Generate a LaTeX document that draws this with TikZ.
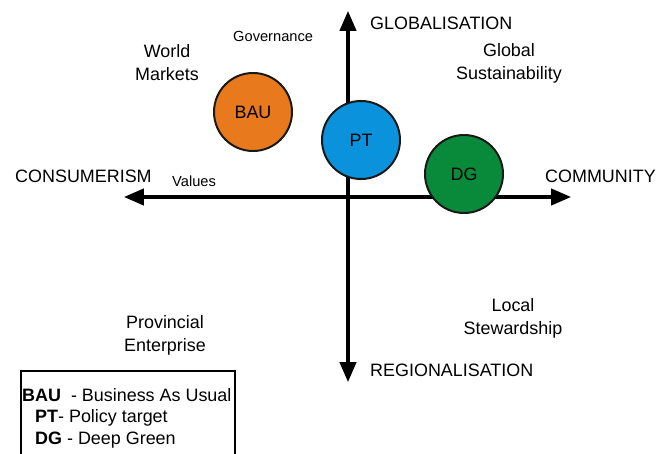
\documentclass[tikz,border=0pt]{standalone}
\usepackage{fontspec}
\setmainfont{Liberation Sans}
\usetikzlibrary{arrows.meta}
\definecolor{bauorange}{RGB}{232,121,28}
\definecolor{ptblue}{RGB}{10,146,220}
\definecolor{dggreen}{RGB}{8,138,58}
\begin{document}
\begin{tikzpicture}[
        x=0.03cm, y=-0.03cm,
        axis/.style={line width=2.6pt, {Triangle[length=17pt,width=14pt]}-{Triangle[length=17pt,width=14pt]}},
        scenario/.style={draw=black!90, line width=1.7pt, circle, minimum size=2.34cm, inner sep=0pt,
            font=\fontsize{15.3}{18}\selectfont},
        biglabel/.style={font=\fontsize{15.3}{18}\selectfont, inner sep=0pt},
        smalllabel/.style={font=\fontsize{12.5}{15}\selectfont, inner sep=0pt},
        quadrant/.style={font=\fontsize{15.3}{19.6}\selectfont, align=center, inner sep=0pt},
        ]
    \useasboundingbox (0,0) rectangle (668,454);
    % axes
    \coordinate (gtop) at (348,11);
    \coordinate (rbot) at (348,382);
    \coordinate (cleft) at (124,197);
    \coordinate (cright) at (571,197);
    \draw[axis] (rbot) -- (gtop);
    \draw[axis] (cleft) -- (cright);
    % axis labels
    \node (glob) [biglabel, anchor=base west] at (370,29.5) {GLOBALISATION};
    \node (reg) [biglabel, anchor=base west] at (370,376) {REGIONALISATION};
    \node (cons) [biglabel, anchor=base west] at (15,183) {CONSUMERISM};
    \node (comm) [biglabel, anchor=base west] at (545,183) {COMMUNITY};
    \node (val) [smalllabel, anchor=base west] at (172,186.5) {Values};
    \node (gov) [smalllabel, anchor=base west] at (233,41.5) {Governance};
    % quadrants
    \node (wm) [quadrant] at (167,63) {World\\Markets};
    \node (gs) [quadrant] at (509,63) {Global\\Sustainability};
    \node (ls) [quadrant] at (513,318) {Local\\Stewardship};
    \node (pe) [quadrant] at (165,335) {Provincial\\Enterprise};
    % scenarios
    \node (bau) [scenario, fill=bauorange] at (253,112) {BAU};
    \node (pt) [scenario, fill=ptblue] at (361,140) {PT};
    \node (dg) [scenario, fill=dggreen] at (464,174) {DG};
    % legend
    \draw[line width=1.3pt] (21,460) -- (21,371) -- (235,371) -- (235,460);
    \node (lbau) [biglabel, anchor=base west] at (22,401.5) {\textbf{BAU} \ - Business As Usual};
    \node (lpt) [biglabel, anchor=base west] at (35,422.5) {\textbf{PT}- Policy target};
    \node (ldg) [biglabel, anchor=base west] at (35,444.5) {\textbf{DG} - Deep Green};
\end{tikzpicture}
\end{document}
